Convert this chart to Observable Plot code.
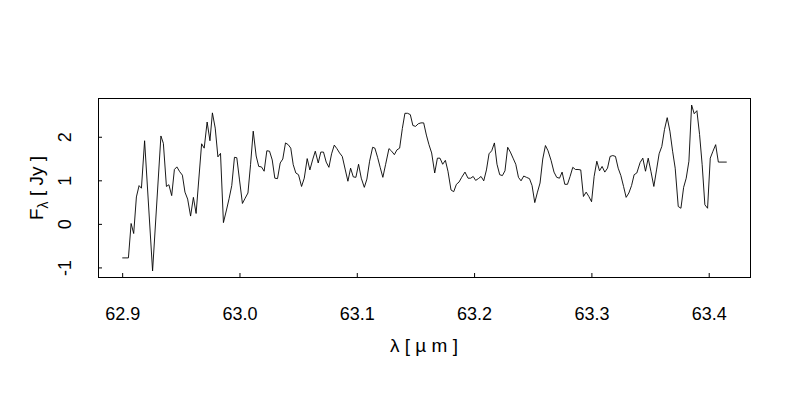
<!DOCTYPE html>
<html>
<head>
<meta charset="utf-8">
<script src="https://cdn.jsdelivr.net/npm/d3@7"></script>
<script src="https://cdn.jsdelivr.net/npm/@observablehq/plot@0.6"></script>
<style>
  html, body { margin: 0; padding: 0; background: #fff; }
  #chart { width: 800px; height: 400px; }
</style>
</head>
<body>
<div id="chart"></div>
<script>
// Wavelength (µm)
const wavelength = [
  62.9000, 62.9049, 62.9072, 62.9094, 62.9117, 62.9140, 62.9160, 62.9187, 62.9255, 62.9326,
  62.9347, 62.9373, 62.9394, 62.9418, 62.9441, 62.9462, 62.9486, 62.9509, 62.9531, 62.9554,
  62.9579, 62.9603, 62.9626, 62.9673, 62.9695, 62.9720, 62.9744, 62.9765, 62.9789, 62.9812,
  62.9834, 62.9859, 62.9885, 62.9908, 62.9930, 62.9953, 62.9973, 62.9996, 63.0021, 63.0044,
  63.0068, 63.0090, 63.0113, 63.0138, 63.0160, 63.0183, 63.0206, 63.0229, 63.0252, 63.0275,
  63.0297, 63.0320, 63.0343, 63.0365, 63.0388, 63.0411, 63.0433, 63.0454, 63.0476, 63.0499,
  63.0525, 63.0548, 63.0573, 63.0596, 63.0619, 63.0642, 63.0667, 63.0689, 63.0712, 63.0735,
  63.0758, 63.0781, 63.0804, 63.0826, 63.0849, 63.0872, 63.0898, 63.0920, 63.0943, 63.0966,
  63.0988, 63.1011, 63.1034, 63.1060, 63.1082, 63.1105, 63.1131, 63.1150, 63.1173, 63.1196,
  63.1218, 63.1241, 63.1270, 63.1293, 63.1316, 63.1338, 63.1361, 63.1384, 63.1406, 63.1429,
  63.1452, 63.1474, 63.1497, 63.1520, 63.1543, 63.1566, 63.1589, 63.1611, 63.1634, 63.1660,
  63.1683, 63.1705, 63.1728, 63.1751, 63.1773, 63.1799, 63.1822, 63.1845, 63.1867, 63.1890,
  63.1918, 63.1944, 63.1967, 63.1988, 63.2009, 63.2032, 63.2055, 63.2078, 63.2101, 63.2123,
  63.2146, 63.2169, 63.2191, 63.2214, 63.2237, 63.2259, 63.2282, 63.2305, 63.2328, 63.2351,
  63.2374, 63.2396, 63.2419, 63.2442, 63.2468, 63.2490, 63.2513, 63.2536, 63.2558, 63.2581,
  63.2604, 63.2626, 63.2652, 63.2677, 63.2700, 63.2724, 63.2746, 63.2769, 63.2792, 63.2814,
  63.2837, 63.2860, 63.2882, 63.2905, 63.2928, 63.2951, 63.2974, 63.2997, 63.3019, 63.3042,
  63.3065, 63.3087, 63.3110, 63.3133, 63.3155, 63.3178, 63.3201, 63.3224, 63.3247, 63.3270,
  63.3292, 63.3315, 63.3338, 63.3360, 63.3383, 63.3411, 63.3434, 63.3457, 63.3480, 63.3503,
  63.3528, 63.3551, 63.3573, 63.3596, 63.3619, 63.3642, 63.3665, 63.3688, 63.3710, 63.3736,
  63.3759, 63.3782, 63.3804, 63.3827, 63.3850, 63.3872, 63.3895, 63.3918, 63.3940, 63.3963,
  63.3986, 63.4009, 63.4032, 63.4055, 63.4078, 63.4146
];
// Flux density F_lambda (Jy)
const flux = [
  -0.77, -0.77,  0.02, -0.21,  0.63,  0.89,  0.83,  1.92, -1.07,  2.03,
   1.86,  0.87,  0.91,  0.66,  1.26,  1.32,  1.21,  1.13,  0.74,  0.58,
   0.19,  0.62,  0.25,  1.85,  1.75,  2.35,  1.92,  2.56,  2.21,  1.55,
   1.63,  0.04,  0.33,  0.60,  0.89,  1.54,  1.53,  1.02,  0.48,  0.60,
   0.72,  1.37,  2.14,  1.57,  1.33,  1.32,  1.22,  1.69,  1.68,  1.48,
   1.06,  1.05,  1.41,  1.50,  1.87,  1.83,  1.75,  1.37,  1.18,  1.14,
   0.87,  1.06,  1.51,  1.25,  1.48,  1.68,  1.41,  1.66,  1.66,  1.43,
   1.31,  1.62,  1.82,  1.74,  1.64,  1.56,  1.25,  0.99,  1.29,  1.09,
   1.08,  1.38,  1.06,  0.85,  1.04,  1.45,  1.77,  1.75,  1.54,  1.30,
   1.08,  1.37,  1.74,  1.68,  1.60,  1.71,  1.75,  2.20,  2.55,  2.55,
   2.52,  2.27,  2.25,  2.31,  2.33,  2.33,  2.05,  1.83,  1.64,  1.18,
   1.52,  1.52,  1.38,  1.47,  1.22,  0.79,  0.75,  0.92,  0.97,  1.08,
   1.20,  1.06,  1.06,  1.10,  1.01,  1.05,  1.10,  1.00,  1.25,  1.62,
   1.69,  1.87,  1.38,  1.14,  1.12,  1.23,  1.77,  1.66,  1.52,  1.38,
   1.08,  1.00,  1.11,  1.08,  1.05,  0.89,  0.50,  0.74,  0.95,  1.50,
   1.81,  1.69,  1.47,  1.20,  1.08,  1.06,  1.20,  0.92,  0.92,  1.10,
   1.31,  1.26,  1.26,  1.25,  0.64,  0.74,  0.64,  0.52,  1.10,  1.45,
   1.23,  1.33,  1.20,  1.29,  1.56,  1.58,  1.56,  1.29,  1.12,  0.87,
   0.62,  0.72,  0.89,  1.14,  1.18,  1.42,  1.52,  1.22,  1.52,  1.22,
   0.87,  1.25,  1.62,  1.79,  2.18,  2.45,  2.14,  1.68,  1.29,  0.41,
   0.37,  0.85,  1.06,  1.45,  2.74,  2.54,  2.61,  2.06,  1.37,  0.45,
   0.37,  1.52,  1.68,  1.83,  1.43,  1.43
];
const xTicks = [62.9, 63.0, 63.1, 63.2, 63.3, 63.4];
const yTicks = [-1, 0, 1, 2];

const data = wavelength.map((w, i) => ({w, f: flux[i]}));

const FONT = "'Liberation Sans', Arial, Helvetica, sans-serif";

const chart = Plot.plot({
  width: 800,
  height: 400,
  marginLeft: 98,
  marginRight: 50,
  marginTop: 98,
  marginBottom: 123,
  x: {domain: [62.8794, 63.4352]},
  y: {domain: [-1.22, 2.89]},
  style: {fontFamily: FONT, fontSize: "18px", background: "#fff", color: "#000"},
  marks: [
    Plot.frame({stroke: "#000", strokeWidth: 1}),
    Plot.line(data, {x: "w", y: "f", stroke: "#000", strokeWidth: 0.9}),
    Plot.axisX({ticks: xTicks, tickSize: -4, tickFormat: () => "", label: null}),
    Plot.axisX({ticks: xTicks, tickSize: 0, tickPadding: 30, tickFormat: d3.format(".1f"), label: null}),
    Plot.axisY({ticks: yTicks, tickSize: -4, tickFormat: () => "", label: null}),
    Plot.axisY({ticks: yTicks, tickSize: 0, tickPadding: 28, tickRotate: -90, tickFormat: d => String(d), label: null})
  ]
});

const svg = d3.select(chart);
svg.append("text")
  .attr("x", 424).attr("y", 352)
  .attr("text-anchor", "middle")
  .attr("font-family", FONT)
  .attr("font-size", 19)
  .attr("fill", "#000")
  .text("λ [ µ m ]");

const yl = svg.append("text")
  .attr("transform", "translate(43,188) rotate(-90)")
  .attr("text-anchor", "middle")
  .attr("font-family", FONT)
  .attr("font-size", 19)
  .attr("fill", "#000");
yl.append("tspan").text("F");
yl.append("tspan").attr("dy", 5).attr("font-size", 14).text("λ");
yl.append("tspan").attr("dy", -5).text(" [ Jy ]");

document.getElementById("chart").appendChild(chart);
</script>
</body>
</html>
